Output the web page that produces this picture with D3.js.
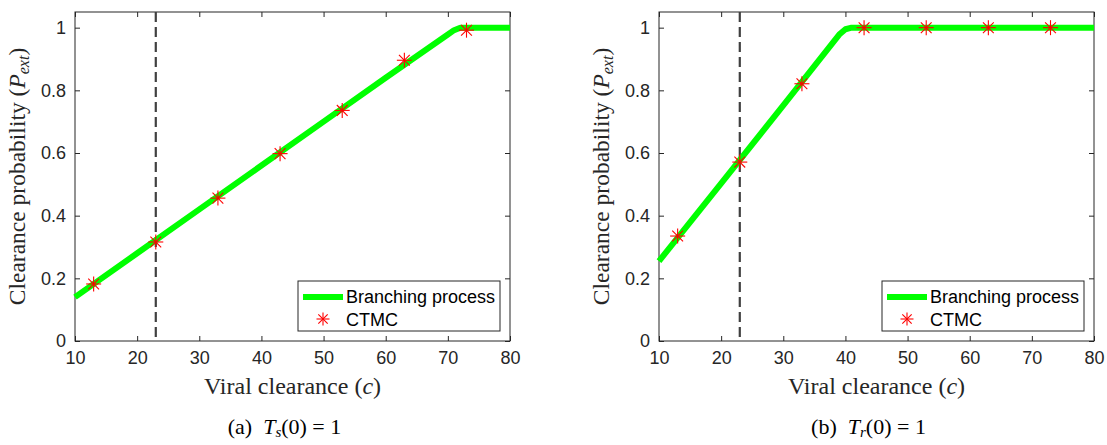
<!DOCTYPE html>
<html><head><meta charset="utf-8">
<script src="https://cdn.jsdelivr.net/npm/d3@7"></script>
<style>body{margin:0;background:#fff}svg{display:block}</style>
</head><body>
<svg id="chart" width="1107" height="445"></svg>
<script>
// ---- data ----
const xTicks = [10, 20, 30, 40, 50, 60, 70, 80];
const yTicks = [0, 0.2, 0.4, 0.6, 0.8, 1];
const yTickLabels = ["0", "0.2", "0.4", "0.6", "0.8", "1"];
const thresholdC = 23;

// panel (a) T_s(0)=1
const branchC_a = [10, 20, 30, 40, 50, 60, 70, 71, 72, 80];
const branchP_a = [0.14, 0.28, 0.42, 0.56, 0.70, 0.84, 0.978, 0.992, 1, 1];
const ctmcC_a = [13, 23, 33, 43, 53, 63, 73];
const ctmcP_a = [0.182, 0.316, 0.456, 0.598, 0.736, 0.896, 0.992];

// panel (b) T_r(0)=1
const branchC_b = [10, 20, 30, 39, 40, 41, 50, 60, 70, 80];
const branchP_b = [0.255, 0.503, 0.752, 0.978, 0.995, 1, 1, 1, 1, 1];
const ctmcC_b = [13, 23, 33, 43, 53, 63, 73];
const ctmcP_b = [0.335, 0.571, 0.821, 1, 1, 1, 1];

const legendLabels = ["Branching process", "CTMC"];

const panels = [
  {left: 75, bc: branchC_a, bp: branchP_a, cc: ctmcC_a, cp: ctmcP_a, cap: "a", sub: "s"},
  {left: 659, bc: branchC_b, bp: branchP_b, cc: ctmcC_b, cp: ctmcP_b, cap: "b", sub: "r"}
];

const svg = d3.select("#chart");
const W = 435, plotTop = 12, plotBottom = 341;
const axisCol = "#262626";
const tickFont = "'Liberation Sans', Arial, sans-serif";
const serif = "'Liberation Serif', 'Times New Roman', serif";

function star(g, x, y, r) {
  const s = g.append("g").attr("transform", `translate(${x},${y})`)
    .attr("stroke", "#ff0000").attr("stroke-width", 1.1).attr("fill", "none");
  const d = r * 0.72;
  s.append("line").attr("x1", -r).attr("x2", r).attr("y1", 0).attr("y2", 0);
  s.append("line").attr("x1", 0).attr("x2", 0).attr("y1", -r).attr("y2", r);
  s.append("line").attr("x1", -d).attr("x2", d).attr("y1", -d).attr("y2", d);
  s.append("line").attr("x1", -d).attr("x2", d).attr("y1", d).attr("y2", -d);
}

panels.forEach(p => {
  const x = d3.scaleLinear().domain([10, 80]).range([p.left, p.left + W]);
  const y = d3.scaleLinear().domain([0, 1.05]).range([plotBottom, plotTop]);
  const g = svg.append("g");

  g.append("rect").attr("x", p.left).attr("y", plotTop).attr("width", W).attr("height", plotBottom - plotTop)
    .attr("fill", "#fff").attr("stroke", axisCol).attr("stroke-width", 1);

  const tl = 5;
  const bx = g.append("g").attr("transform", `translate(0,${plotBottom})`)
    .call(d3.axisBottom(x).tickValues(xTicks).tickSizeInner(-tl).tickSizeOuter(0).tickPadding(10));
  const tx = g.append("g").attr("transform", `translate(0,${plotTop})`)
    .call(d3.axisTop(x).tickValues(xTicks).tickSizeInner(-tl).tickSizeOuter(0).tickFormat(""));
  const ly = g.append("g").attr("transform", `translate(${p.left},0)`)
    .call(d3.axisLeft(y).tickValues(yTicks).tickSizeInner(-tl).tickSizeOuter(0).tickPadding(9)
      .tickFormat((d, i) => yTickLabels[i]));
  const ry = g.append("g").attr("transform", `translate(${p.left + W},0)`)
    .call(d3.axisRight(y).tickValues(yTicks).tickSizeInner(-tl).tickSizeOuter(0).tickFormat(""));
  [bx, tx, ly, ry].forEach(a => {
    a.select(".domain").remove();
    a.selectAll("line").attr("stroke", axisCol);
    a.selectAll("text").attr("fill", axisCol).style("font-family", tickFont).style("font-size", "18px");
  });

  g.append("line").attr("x1", x(thresholdC)).attr("x2", x(thresholdC))
    .attr("y1", plotTop).attr("y2", plotBottom)
    .attr("stroke", "#404040").attr("stroke-width", 2.2).attr("stroke-dasharray", "10,5");

  const line = d3.line().x(d => x(d[0])).y(d => y(d[1]));
  g.append("path").datum(p.bc.map((c, i) => [c, p.bp[i]]))
    .attr("d", line).attr("fill", "none").attr("stroke", "#00ff00").attr("stroke-width", 6)
    .attr("stroke-linejoin", "round");

  p.cc.forEach((c, i) => star(g, x(c), y(p.cp[i]), 7.5));

  const lx = p.left + 223, ly0 = 281;
  g.append("rect").attr("x", lx).attr("y", ly0).attr("width", 202).attr("height", 50)
    .attr("fill", "#fff").attr("stroke", axisCol).attr("stroke-width", 1);
  g.append("line").attr("x1", lx + 5).attr("x2", lx + 45).attr("y1", ly0 + 16).attr("y2", ly0 + 16)
    .attr("stroke", "#00ff00").attr("stroke-width", 6);
  star(g, lx + 25, ly0 + 38, 6.5);
  legendLabels.forEach((t, i) => {
    g.append("text").attr("x", lx + 48).attr("y", ly0 + 16 + i * 23).attr("dy", "0.35em")
      .attr("fill", "#000").style("font-family", tickFont).style("font-size", "18px").text(t);
  });

  const xl = g.append("text").attr("x", p.left + W / 2).attr("y", 394).attr("text-anchor", "middle")
    .attr("fill", axisCol).style("font-family", serif).style("font-size", "24px");
  xl.append("tspan").text("Viral clearance (");
  xl.append("tspan").attr("font-style", "italic").text("c");
  xl.append("tspan").text(")");

  const yl = g.append("text").attr("transform", `translate(${p.left - 50},${(plotTop + plotBottom) / 2}) rotate(-90)`)
    .attr("text-anchor", "middle").attr("fill", axisCol).style("font-family", serif).style("font-size", "23.5px");
  yl.append("tspan").text("Clearance probability (");
  yl.append("tspan").attr("font-style", "italic").text("P");
  yl.append("tspan").attr("font-style", "italic").attr("font-size", "16px").attr("dy", "4").text("ext");
  yl.append("tspan").attr("dy", "-4").text(")");

  const cp = g.append("text").attr("x", p.left + W / 2 - 8).attr("y", 434).attr("text-anchor", "middle")
    .attr("fill", "#000").style("font-family", serif).style("font-size", "22px");
  cp.append("tspan").text(`(${p.cap})\u00a0\u00a0`);
  cp.append("tspan").attr("font-style", "italic").text("T");
  cp.append("tspan").attr("font-style", "italic").attr("font-size", "15px").attr("dy", "3").text(p.sub);
  cp.append("tspan").attr("dy", "-3").text("(0) = 1");
});
</script>
</body></html>
